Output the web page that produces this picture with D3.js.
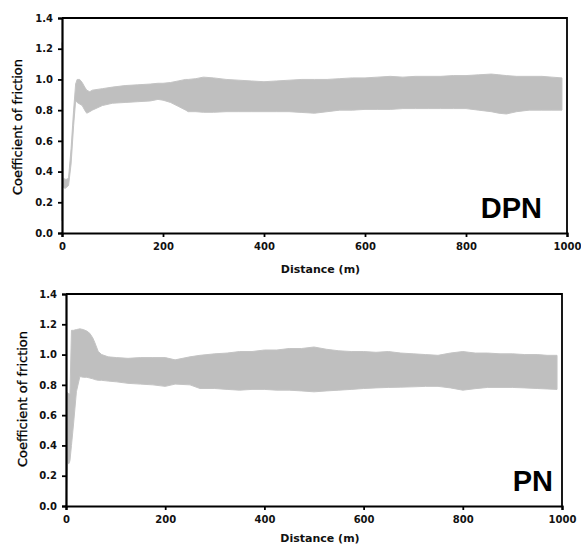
<!DOCTYPE html>
<html>
<head>
<meta charset="utf-8">
<script src="https://cdn.jsdelivr.net/npm/d3@7"></script>
<style>
  body { margin: 0; background: #fff; }
  svg text { font-family: "DejaVu Sans", sans-serif; }
</style>
</head>
<body>
<div id="chart"></div>
<script>
// DPN panel: envelope of the friction signal (min / max) vs distance
const dpnDist  = [0, 0.5, 2, 6, 10, 13, 18, 23, 27, 30, 35, 40, 45, 49, 55, 60, 80, 100, 125, 150, 175, 190, 200, 215, 230, 245, 250, 265, 280, 300, 325, 350, 375, 400, 425, 450, 475, 500, 525, 550, 575, 600, 625, 650, 675, 700, 725, 750, 775, 800, 825, 850, 865, 880, 900, 925, 950, 970, 990];
const dpnUpper = [1.24, 1.2, 0.36, 0.35, 0.35, 0.36, 0.55, 0.8, 0.97, 1.0, 1.0, 0.98, 0.95, 0.93, 0.92, 0.93, 0.94, 0.95, 0.96, 0.965, 0.97, 0.975, 0.975, 0.98, 0.99, 1.0, 1.0, 1.005, 1.015, 1.01, 1.0, 0.995, 0.99, 0.985, 0.99, 0.995, 1.0, 1.0, 1.0, 1.005, 1.01, 1.01, 1.015, 1.02, 1.015, 1.02, 1.02, 1.02, 1.025, 1.025, 1.03, 1.035, 1.03, 1.025, 1.02, 1.02, 1.02, 1.015, 1.01];
const dpnLower = [0.08, 0.3, 0.3, 0.29, 0.3, 0.31, 0.45, 0.7, 0.86, 0.85, 0.84, 0.83, 0.8, 0.78, 0.79, 0.8, 0.83, 0.845, 0.85, 0.855, 0.86, 0.87, 0.865, 0.85, 0.825, 0.8, 0.79, 0.79, 0.786, 0.786, 0.79, 0.79, 0.79, 0.79, 0.79, 0.79, 0.785, 0.78, 0.79, 0.8, 0.8, 0.805, 0.805, 0.805, 0.81, 0.81, 0.81, 0.81, 0.81, 0.81, 0.8, 0.79, 0.78, 0.775, 0.79, 0.8, 0.8, 0.8, 0.8];

// PN panel
const pnDist  = [0, 1, 3, 6, 8, 11, 15, 21, 28, 35, 42, 48, 54, 58, 65, 72, 85, 102, 125, 150, 175, 200, 220, 250, 270, 300, 325, 350, 375, 400, 425, 450, 475, 500, 525, 550, 575, 600, 625, 650, 675, 700, 725, 750, 775, 800, 825, 850, 875, 900, 925, 950, 970, 990];
const pnUpper = [0.1, 0.74, 0.75, 0.74, 0.74, 1.16, 1.16, 1.165, 1.17, 1.165, 1.155, 1.14, 1.11, 1.08, 1.02, 1.0, 0.985, 0.98, 0.975, 0.98, 0.98, 0.98, 0.965, 0.985, 0.995, 1.005, 1.01, 1.02, 1.02, 1.03, 1.03, 1.04, 1.04, 1.05, 1.035, 1.025, 1.02, 1.02, 1.015, 1.02, 1.01, 1.005, 1.0, 0.995, 1.01, 1.02, 1.01, 1.01, 1.005, 1.005, 1.0, 1.0, 0.995, 0.995];
const pnLower = [0.0, 0.1, 0.28, 0.28, 0.3, 0.4, 0.535, 0.755, 0.855, 0.85, 0.85, 0.845, 0.84, 0.835, 0.83, 0.83, 0.825, 0.82, 0.81, 0.805, 0.8, 0.79, 0.805, 0.8, 0.776, 0.776, 0.77, 0.765, 0.77, 0.77, 0.765, 0.765, 0.76, 0.754, 0.76, 0.765, 0.77, 0.776, 0.78, 0.783, 0.785, 0.787, 0.79, 0.79, 0.78, 0.765, 0.775, 0.783, 0.783, 0.783, 0.78, 0.776, 0.773, 0.77];

const xTicks = [0, 200, 400, 600, 800, 1000];
const yTicks = [0, 0.2, 0.4, 0.6, 0.8, 1.0, 1.2, 1.4];

const width = 581;
const height = 546;

const svg = d3.select("#chart")
    .append("svg")
    .attr("width", width)
    .attr("height", height);

drawPanel({ left: 62, right: 567, top: 18, bottom: 233, dist: dpnDist, upper: dpnUpper, lower: dpnLower,
            label: "DPN", labelX: 542, labelY: 218, xTitleY: 273, yTitleX: 22, yTitleY: 127 });
drawPanel({ left: 66, right: 562, top: 294, bottom: 506, dist: pnDist, upper: pnUpper, lower: pnLower,
            label: "PN", labelX: 553, labelY: 491, xTitleY: 542, yTitleX: 27, yTitleY: 399 });

function drawPanel(p) {
    const x = d3.scaleLinear().domain([0, 1000]).range([p.left, p.right]);
    const y = d3.scaleLinear().domain([0, 1.4]).range([p.bottom, p.top]);
    const g = svg.append("g");

    const rows = p.dist.map((d, i) => ({ d: d, hi: p.upper[i], lo: p.lower[i] }));

    // friction band
    g.append("path")
        .datum(rows)
        .attr("fill", "#bfbfbf")
        .attr("stroke", "#c4c4c4")
        .attr("stroke-width", 1)
        .attr("d", d3.area().x(r => x(r.d)).y0(r => y(r.lo)).y1(r => y(r.hi)));

    // frame (top + right)
    g.append("path")
        .attr("fill", "none")
        .attr("stroke", "#000")
        .attr("stroke-width", 1.8)
        .attr("d", `M${p.left},${p.top}H${p.right}V${p.bottom}`);

    const xAxis = g.append("g")
        .attr("transform", `translate(0,${p.bottom})`)
        .call(d3.axisBottom(x).tickValues(xTicks).tickSize(4).tickPadding(6).tickFormat(d3.format("d")));
    const yAxis = g.append("g")
        .attr("transform", `translate(${p.left},0)`)
        .call(d3.axisLeft(y).tickValues(yTicks).tickSize(4).tickPadding(5).tickFormat(d3.format(".1f")));

    [xAxis, yAxis].forEach(a => {
        a.select(".domain").attr("stroke", "#000").attr("stroke-width", 2.2);
        a.selectAll(".tick line").attr("stroke", "#000").attr("stroke-width", 1.8);
        a.selectAll(".tick text")
            .attr("fill", "#111")
            .style("font-family", "DejaVu Sans")
            .style("font-size", "10px")
            .style("font-weight", "bold");
    });

    g.append("text")
        .attr("x", (p.left + p.right) / 2 + 6)
        .attr("y", p.xTitleY)
        .attr("text-anchor", "middle")
        .style("font-size", "11px")
        .style("font-weight", "bold")
        .attr("fill", "#111")
        .text("Distance (m)");

    g.append("text")
        .attr("transform", `translate(${p.yTitleX},${p.yTitleY}) rotate(-90)`)
        .attr("text-anchor", "middle")
        .style("font-size", "13px")
        .attr("fill", "#000")
        .attr("stroke", "#000")
        .attr("stroke-width", 0.3)
        .text("Coefficient of friction");

    g.append("text")
        .attr("x", p.labelX)
        .attr("y", p.labelY)
        .attr("text-anchor", "end")
        .style("font-family", "Liberation Sans, Arial, sans-serif")
        .style("font-size", "29px")
        .style("font-weight", "bold")
        .attr("fill", "#000")
        .text(p.label);
}
</script>
</body>
</html>
